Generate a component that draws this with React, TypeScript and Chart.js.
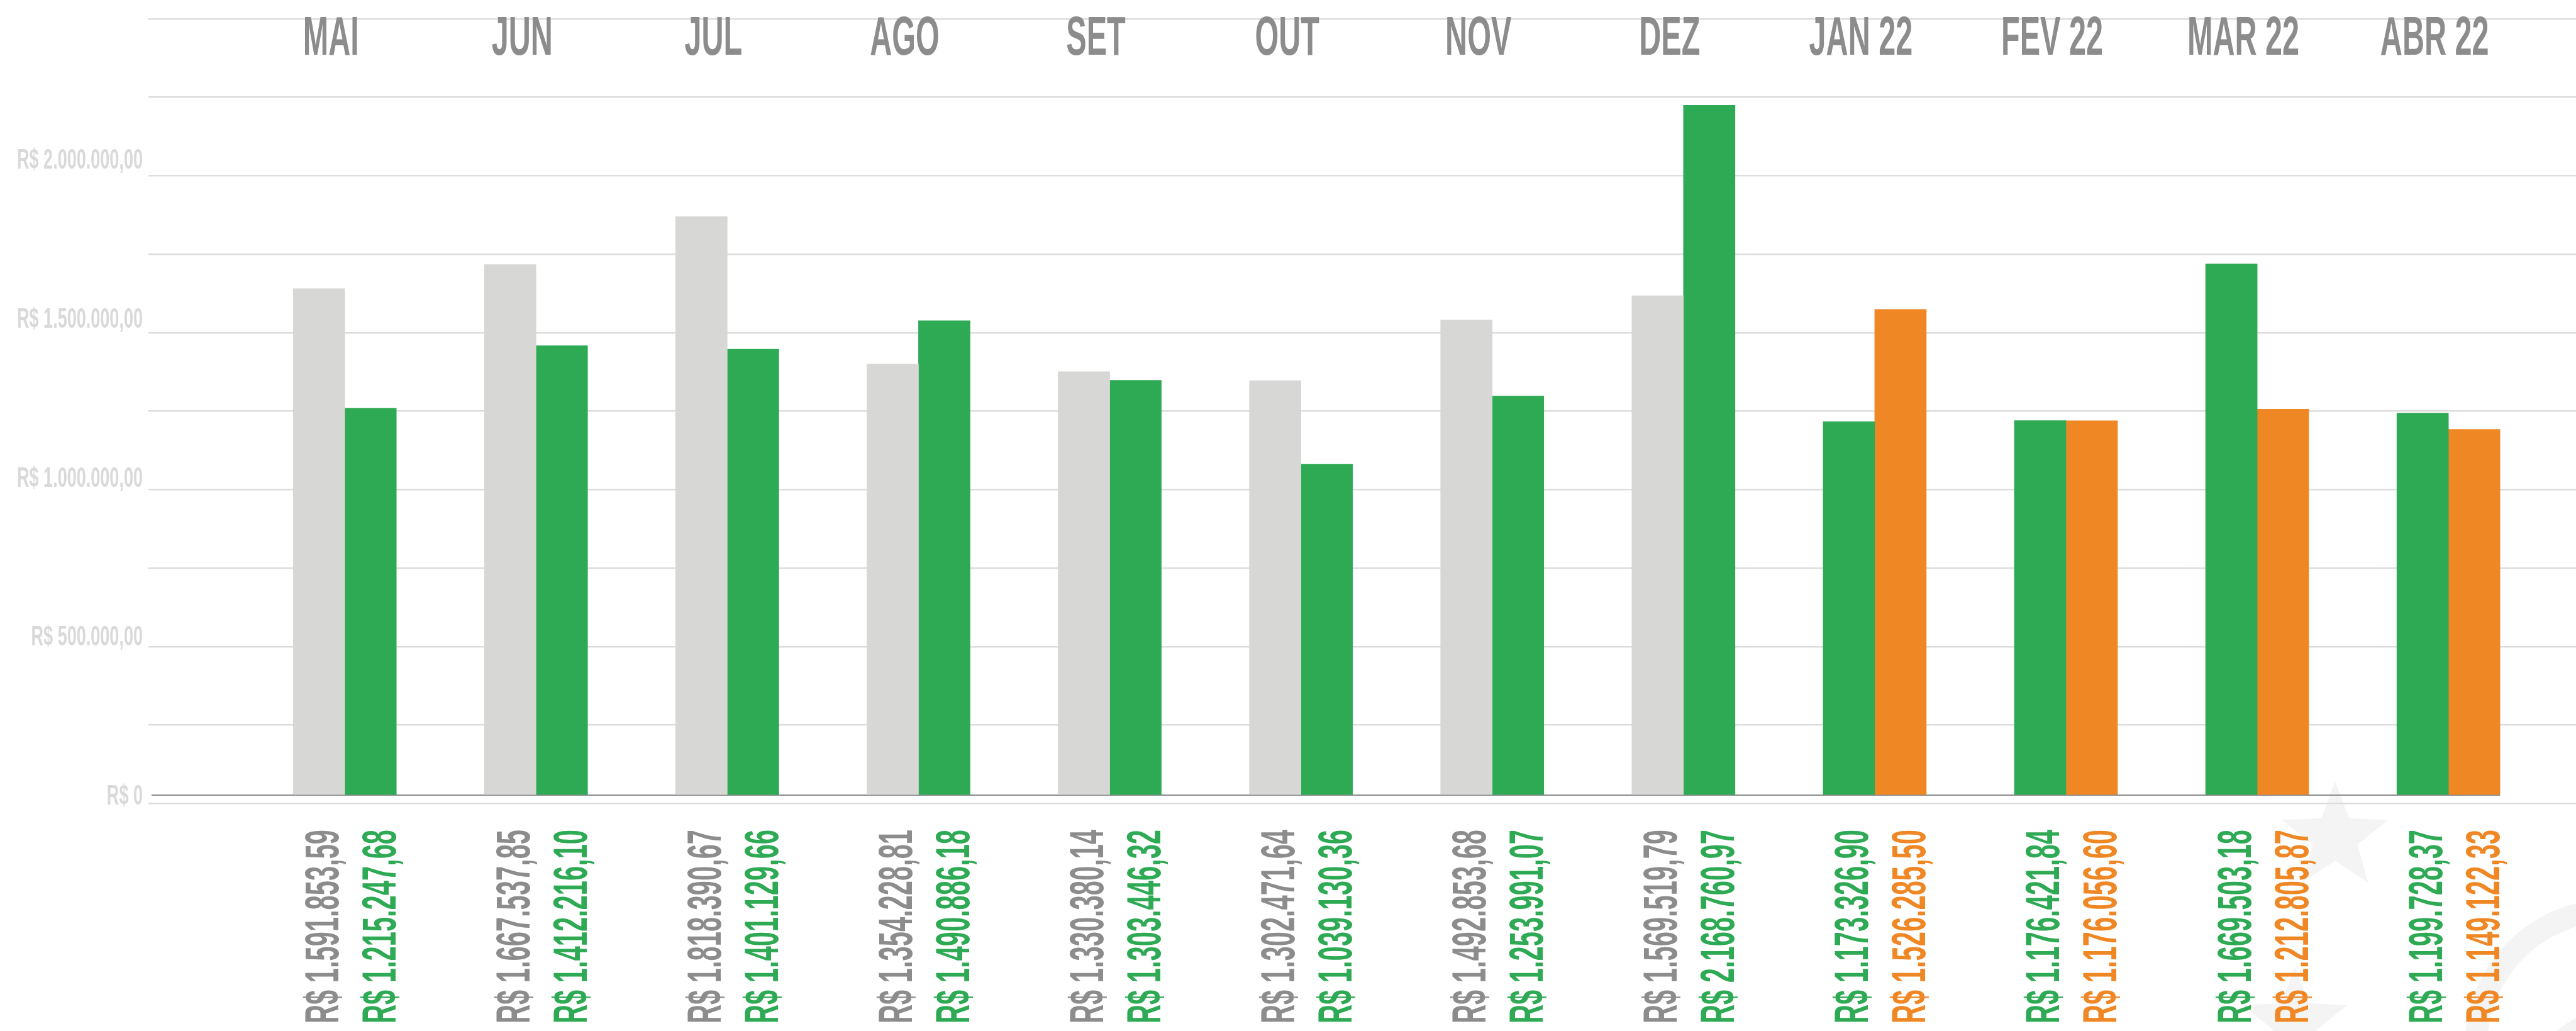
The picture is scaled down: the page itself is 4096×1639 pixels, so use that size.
import React, { useEffect, useRef } from 'react';
import { Chart, registerables } from 'chart.js';

Chart.register(...registerables);

// ---------- data ----------
const months = ['MAI', 'JUN', 'JUL', 'AGO', 'SET', 'OUT', 'NOV', 'DEZ', 'JAN 22', 'FEV 22', 'MAR 22', 'ABR 22'];
const grayValues: (number | null)[] = [1591853.59, 1667537.85, 1818390.67, 1354228.81, 1330380.14, 1302471.64, 1492853.68, 1569519.79, null, null, null, null];
const greenValues: (number | null)[] = [1215247.68, 1412216.1, 1401129.66, 1490886.18, 1303446.32, 1039130.36, 1253991.07, 2168760.97, 1173326.9, 1176421.84, 1669503.18, 1199728.37];
const orangeValues: (number | null)[] = [null, null, null, null, null, null, null, null, 1526285.5, 1176056.6, 1212805.87, 1149122.33];
const yTickValues = [0, 500000, 1000000, 1500000, 2000000];

// ---------- styling ----------
const W = 4096;
const H = 1639;
const GRAY = '#d7d7d6';
const GREEN = '#2ea954';
const ORANGE = '#f08725';
const LABEL_GRAY = '#8c8c8c';
const FAMILY = '"Liberation Sans", Arial, sans-serif';

function brl(v: number): string {
  if (v === 0) return 'R$ 0';
  const [ip, dp] = v.toFixed(2).split('.');
  return `R$ ${ip.replace(/\B(?=(\d{3})+(?!\d))/g, '.')},${dp}`;
}

function fontForCap(ctx: CanvasRenderingContext2D, weight: string, capPx: number): string {
  ctx.font = `${weight} 100px ${FAMILY}`;
  const cap = ctx.measureText('H').actualBoundingBoxAscent || 71.6;
  return `${weight} ${(capPx * 100) / cap}px ${FAMILY}`;
}

function squeezeFor(ctx: CanvasRenderingContext2D, font: string, sample: string, target: number): number {
  ctx.font = font;
  return target / ctx.measureText(sample).width;
}

function star(ctx: CanvasRenderingContext2D, cx: number, cy: number, R: number) {
  const r = R * 0.42;
  ctx.beginPath();
  for (let k = 0; k < 10; k++) {
    const rad = k % 2 === 0 ? R : r;
    const a = -Math.PI / 2 + (k * Math.PI) / 5;
    const px = cx + rad * Math.cos(a);
    const py = cy + rad * Math.sin(a);
    if (k === 0) ctx.moveTo(px, py);
    else ctx.lineTo(px, py);
  }
  ctx.closePath();
  ctx.fill();
}

const infographicPlugin = {
  id: 'infographic',
  beforeDraw(chart: any) {
    // faint decorative watermark (bottom right)
    const { ctx } = chart;
    ctx.save();
    ctx.fillStyle = '#f4f4f4';
    star(ctx, 3713, 1331, 89);
    star(ctx, 3649, 1625, 88);
    ctx.strokeStyle = '#f4f4f4';
    ctx.lineWidth = 36;
    ctx.beginPath();
    ctx.arc(4153, 1663, 216, Math.PI, Math.PI * 1.5);
    ctx.stroke();
    ctx.lineWidth = 28;
    ctx.beginPath();
    ctx.arc(4153, 1740, 120, Math.PI, Math.PI * 1.5);
    ctx.stroke();
    ctx.restore();
  },
  beforeDatasetsDraw(chart: any) {
    const { ctx } = chart;
    const y = chart.scales.y;
    const zero = y.getPixelForValue(0);
    let endX = chart.chartArea.right;
    const metas = chart.getSortedVisibleDatasetMetas();
    let maxRight = 0;
    metas.forEach((m: any) => m.data.forEach((el: any) => {
      if (el && !el.skip && isFinite(el.x)) maxRight = Math.max(maxRight, el.x + el.width / 2);
    }));
    if (maxRight > 0) endX = maxRight;
    ctx.save();
    ctx.strokeStyle = '#8c8c8c';
    ctx.lineWidth = 2;
    ctx.beginPath();
    ctx.moveTo(241, zero + 1);
    ctx.lineTo(endX, zero + 1);
    ctx.stroke();
    ctx.restore();
  },
  afterDatasetsDraw(chart: any) {
    const { ctx } = chart;
    const x = chart.scales.x;
    const y = chart.scales.y;
    ctx.save();

    // month labels on top
    const monthFont = fontForCap(ctx, 'bold', 61);
    const monthSx = squeezeFor(ctx, monthFont, 'MAI', 89);
    ctx.font = monthFont;
    ctx.fillStyle = LABEL_GRAY;
    ctx.textAlign = 'center';
    ctx.textBaseline = 'alphabetic';
    months.forEach((m, i) => {
      const cx = x.getPixelForValue(i) - 22;
      ctx.save();
      ctx.translate(cx, 87);
      ctx.scale(monthSx, 1);
      ctx.fillText(m, 0, 0);
      ctx.restore();
    });

    // y axis labels
    const yCap = 31.5;
    const yFont = fontForCap(ctx, 'bold', yCap);
    const ySx = squeezeFor(ctx, yFont, 'R$ 2.000.000,00', 200);
    ctx.font = yFont;
    ctx.fillStyle = '#d9d9d9';
    ctx.textAlign = 'right';
    yTickValues.forEach((v) => {
      const py = y.getPixelForValue(v);
      ctx.save();
      ctx.translate(227, py + yCap / 2);
      ctx.scale(ySx, 1);
      ctx.fillText(brl(v), 0, 0);
      ctx.restore();
    });

    // rotated value labels under bars
    const vCap = 53;
    const vFont = fontForCap(ctx, 'bold', vCap);
    const vSx = squeezeFor(ctx, vFont, 'R$ 1.591.853,59', 308);
    ctx.font = vFont;
    ctx.textAlign = 'left';
    const labelColors = [LABEL_GRAY, GREEN, ORANGE];
    const seriesValues = [grayValues, greenValues, orangeValues];
    chart.data.datasets.forEach((_ds: any, d: number) => {
      const meta = chart.getDatasetMeta(d);
      meta.data.forEach((el: any, i: number) => {
        const v = seriesValues[d][i];
        if (v === null || v === undefined) return;
        const center = x.getPixelForValue(i);
        const isLeft = el.x < center;
        const lx = el.x + (isLeft ? 4 : 13);
        ctx.save();
        ctx.fillStyle = labelColors[d];
        ctx.translate(lx + vCap / 2, 1627);
        ctx.rotate(-Math.PI / 2);
        ctx.scale(vSx, 1);
        ctx.fillText(brl(v), 0, 0);
        ctx.restore();
      });
    });

    ctx.restore();
  },
};

export default function App() {
  const ref = useRef<HTMLCanvasElement | null>(null);

  useEffect(() => {
    const canvas = ref.current;
    if (!canvas) return;
    const toPoints = (arr: (number | null)[]) => arr.map((v, i) => ({ x: i, y: v }));
    const chart = new Chart(canvas, {
      type: 'bar',
      data: {
        datasets: [
          { label: 'Anterior', data: toPoints(grayValues) as any, backgroundColor: GRAY, borderWidth: 0 },
          { label: 'Atual', data: toPoints(greenValues) as any, backgroundColor: GREEN, borderWidth: 0 },
          { label: '2022', data: toPoints(orangeValues) as any, backgroundColor: ORANGE, borderWidth: 0 },
        ],
      },
      options: {
        animation: false,
        responsive: false,
        devicePixelRatio: 1,
        skipNull: true,
        barThickness: 82,
        layout: { padding: { left: 235.5, top: 29.9, right: 0, bottom: H - 1277.5 } },
        plugins: { legend: { display: false }, tooltip: { enabled: false } },
        scales: {
          x: { type: 'linear', offset: false, min: -1.0283, max: 11.667, display: false },
          y: { type: 'linear', min: -28500, max: 2440700, display: false },
          yGrid: {
            type: 'linear',
            position: 'left',
            min: 0,
            max: 2500000,
            ticks: { display: false, stepSize: 250000 },
            grid: { color: '#dddddd', lineWidth: 2.5, drawTicks: false },
            border: { display: false },
          },
        },
      } as any,
      plugins: [infographicPlugin],
    });
    return () => chart.destroy();
  }, []);

  return (
    <div style={{ position: 'fixed', left: 0, top: 0, width: W, height: H, background: '#ffffff' }}>
      <canvas ref={ref} width={W} height={H} style={{ display: 'block' }} />
    </div>
  );
}
